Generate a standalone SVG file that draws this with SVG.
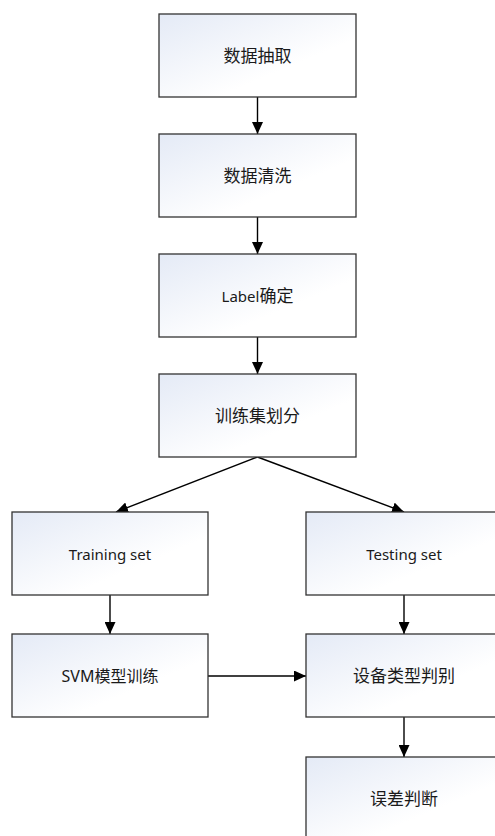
<svg xmlns="http://www.w3.org/2000/svg" width="495" height="836" viewBox="0 0 495 836">
<defs>
<linearGradient id="g" x1="0" y1="0" x2="1" y2="1">
<stop offset="0" stop-color="#e4eaf6"/>
<stop offset="0.65" stop-color="#ffffff"/>
</linearGradient>
<marker id="ah" markerWidth="12" markerHeight="11" refX="12" refY="5.5" orient="auto" markerUnits="userSpaceOnUse" viewBox="0 0 12 11">
<path d="M0,0 L12,5.5 L0,11 Z" fill="#000"/>
</marker>
<style>
.box{fill:url(#g);stroke:#333;stroke-width:1.3}
.t{font-family:"Noto Sans","Noto Sans CJK SC",sans-serif;font-size:17px;fill:#1a1a1a;text-anchor:middle;dominant-baseline:central}
.l{font-size:15px}
.s{font-size:16px}
.c{stroke:#000;stroke-width:1.4;fill:none;marker-end:url(#ah)}
</style>
</defs>
<rect width="495" height="836" fill="#fff"/>
<g id="connectors">
<line class="c" x1="257.5" y1="97" x2="257.5" y2="134"/>
<line class="c" x1="257.5" y1="217" x2="257.5" y2="254"/>
<line class="c" x1="257.5" y1="337" x2="257.5" y2="374"/>
<line class="c" x1="257.5" y1="457" x2="116" y2="512"/>
<line class="c" x1="257.5" y1="457" x2="404" y2="512"/>
<line class="c" x1="110" y1="595" x2="110" y2="634"/>
<line class="c" x1="404" y1="595" x2="404" y2="634"/>
<line class="c" x1="208" y1="676" x2="306" y2="676"/>
<line class="c" x1="404" y1="717" x2="404" y2="757"/>
</g>
<g id="n1"><rect class="box" x="159" y="14" width="197" height="83"/><text class="t" x="257.5" y="55.5">数据抽取</text></g>
<g id="n2"><rect class="box" x="159" y="134" width="197" height="83"/><text class="t" x="257.5" y="175.5">数据清洗</text></g>
<g id="n3"><rect class="box" x="159" y="254" width="197" height="83"/><text class="t" x="257.5" y="295.5"><tspan class="l">Label</tspan>确定</text></g>
<g id="n4"><rect class="box" x="159" y="374" width="197" height="83"/><text class="t" x="257.5" y="415.5">训练集划分</text></g>
<g id="n5"><rect class="box" x="12" y="512" width="196" height="83"/><text class="t l" x="110" y="553.5">Training set</text></g>
<g id="n6"><rect class="box" x="306" y="512" width="196" height="83"/><text class="t l" x="404" y="553.5">Testing set</text></g>
<g id="n7"><rect class="box" x="12" y="634" width="196" height="83"/><text class="t s" x="110" y="675.5">SVM模型训练</text></g>
<g id="n8"><rect class="box" x="306" y="634" width="196" height="83"/><text class="t" x="404" y="675.5">设备类型判别</text></g>
<g id="n9"><rect class="box" x="306" y="757" width="196" height="83"/><text class="t" x="404" y="798.5">误差判断</text></g>
</svg>
